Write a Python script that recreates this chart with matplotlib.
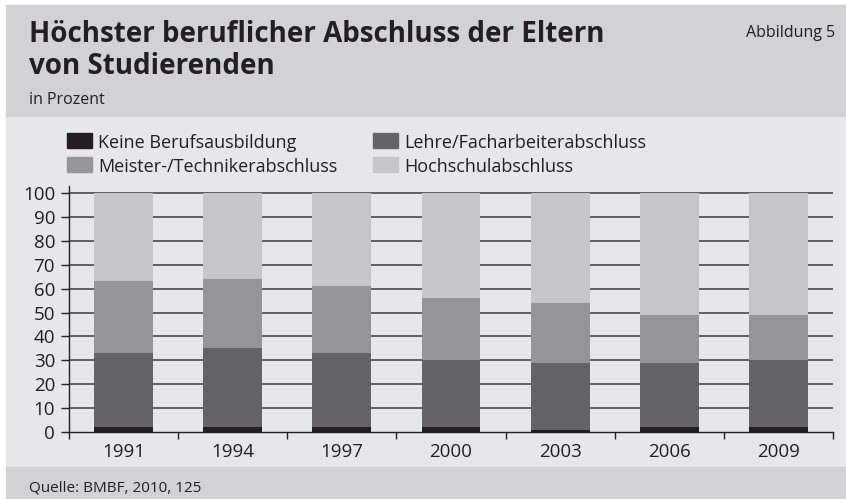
import matplotlib
matplotlib.use('Agg')
import matplotlib.pyplot as plt
from matplotlib.patches import Rectangle
import numpy as np

# Daten (in Prozent)
jahre = ['1991', '1994', '1997', '2000', '2003', '2006', '2009']
keine = [2, 2, 2, 2, 1, 2, 2]
lehre = [31, 33, 31, 28, 28, 27, 28]
meister = [30, 29, 28, 26, 25, 20, 19]
hochschule = [37, 36, 39, 44, 46, 51, 51]

serien = [
    ('Keine Berufsausbildung', keine, '#231f20'),
    ('Lehre/Facharbeiterabschluss', lehre, '#646466'),
    ('Meister-/Technikerabschluss', meister, '#939598'),
    ('Hochschulabschluss', hochschule, '#c6c7c9'),
]

W, H = 846, 499
plt.rcParams['font.family'] = ['Open Sans', 'DejaVu Sans']

fig = plt.figure(figsize=(W / 100, H / 100), dpi=100)
fig.patch.set_facecolor('white')

def fx(px):
    return px / W

def fy(py):
    return 1 - py / H

# Hintergrundflaechen: Kopf, Diagramm, Fuss
fig.patches.append(Rectangle((fx(6), fy(117)), fx(W - 6), 112 / H,
                             transform=fig.transFigure, color='#d1d2d4', zorder=0))
fig.patches.append(Rectangle((fx(6), fy(467)), fx(W - 6), 350 / H,
                             transform=fig.transFigure, color='#e6e7e8', zorder=0))
fig.patches.append(Rectangle((fx(6), fy(499)), fx(W - 6), 32 / H,
                             transform=fig.transFigure, color='#d1d2d4', zorder=0))

# Kopfzeile
fig.text(fx(29), fy(42), 'Höchster beruflicher Abschluss der Eltern', fontsize=20,
         fontweight='bold', color='#231f20', va='baseline')
fig.text(fx(29), fy(74), 'von Studierenden', fontsize=20,
         fontweight='bold', color='#231f20', va='baseline')
fig.text(fx(29), fy(104), 'in Prozent', fontsize=11.5, color='#231f20', va='baseline')
fig.text(fx(835), fy(37), 'Abbildung 5', fontsize=11.5, color='#231f20',
         va='baseline', ha='right')
fig.text(fx(29), fy(491), 'Quelle: BMBF, 2010, 125', fontsize=11, color='#231f20',
         va='baseline')

# Legende (zwei Spalten)
leg_pos = [(67, 133), (373, 133), (67, 157), (373, 157)]
for (name, _, farbe), (lx, ly) in zip(serien, leg_pos):
    fig.patches.append(Rectangle((fx(lx), fy(ly + 15)), 25 / W, 15 / H,
                                 transform=fig.transFigure, color=farbe, zorder=1))
    fig.text(fx(lx + 31), fy(ly + 15), name, fontsize=13, color='#231f20', va='baseline')

# Diagramm
ax_top = 432 - 239 * 1.03
ax = fig.add_axes([fx(69), fy(432), fx(833 - 69), (432 - ax_top) / H])
ax.set_facecolor('none')
ax.set_zorder(5)

x = np.arange(len(jahre))
unten = np.zeros(len(jahre))
for name, werte, farbe in serien:
    ax.bar(x, werte, width=0.54, bottom=unten, color=farbe, zorder=3, label=name)
    unten += np.array(werte)

ax.set_xlim(-0.5, len(jahre) - 0.5)
ax.set_ylim(0, 103)
ax.set_yticks(np.arange(0, 101, 10))
for yv in range(10, 101, 10):
    ax.axhline(yv, color='#3a3a3c', lw=1.1, zorder=1)

ax.set_xticks(x)
ax.set_xticklabels(jahre)
ax.set_xticks(np.arange(-0.5, len(jahre)), minor=True)
ax.tick_params(axis='x', which='major', length=0, pad=8, labelsize=13.5, labelcolor='#231f20')
ax.tick_params(axis='x', which='minor', length=5, width=1, color='#231f20', direction='out')
ax.tick_params(axis='y', length=6, width=1, color='#231f20', pad=4,
               labelsize=13.5, labelcolor='#231f20')

for s in ['top', 'right']:
    ax.spines[s].set_visible(False)
ax.spines['left'].set_color('#231f20')
ax.spines['bottom'].set_color('#231f20')
ax.spines['left'].set_linewidth(1)
ax.spines['bottom'].set_linewidth(1)

fig.savefig('out.png', dpi=100)
